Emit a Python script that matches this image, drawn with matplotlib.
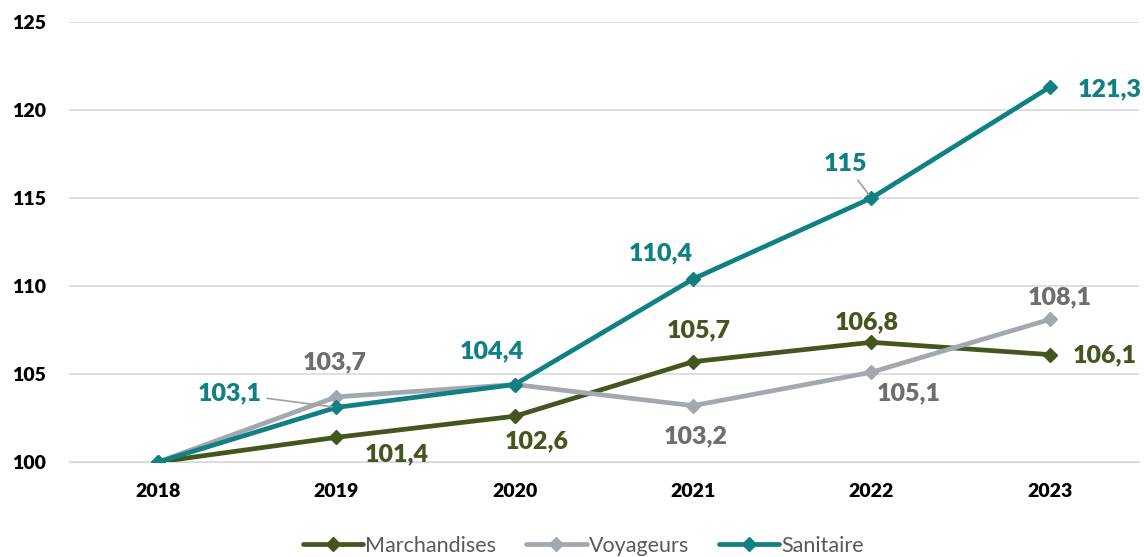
import numpy as np
import matplotlib.pyplot as plt

plt.rcParams['font.family'] = ['Lato', 'DejaVu Sans']

years = ['2018', '2019', '2020', '2021', '2022', '2023']
marchandises = [100, 101.4, 102.6, 105.7, 106.8, 106.1]
voyageurs = [100, 103.7, 104.4, 103.2, 105.1, 108.1]
sanitaire = [100, 103.1, 104.4, 110.4, 115, 121.3]

c_march = '#44561f'
c_voy = '#a3a8b0'
c_san = '#108082'
c_voy_txt = '#6e6e6e'

# label offsets in pixels (dx right, dy down); None = no label
off_march = [None, (60, 17), (22, 25), (6, -31), (-5, -20), (55, 1)]
off_voy = [None, (-2, -35), None, (3, 31), (37, 21), (10, -22)]
off_san = [None, (-107, -14), (-23, -33), (-32, -26), (-26, -34), (60, 2)]
leaders_san = {1, 4}

fig = plt.figure(figsize=(11.44, 5.57), dpi=100)
ax = fig.add_axes([0.0603, 0.1706, 0.9353, 0.7899])
x = np.arange(len(years))

for vals, col, name in [(marchandises, c_march, 'Marchandises'),
                        (voyageurs, c_voy, 'Voyageurs'),
                        (sanitaire, c_san, 'Sanitaire')]:
    ax.plot(x, vals, color=col, lw=3.4, marker='D', ms=7.5, label=name,
            solid_capstyle='round', zorder=3)


def fmt(v):
    s = ('%.1f' % v).replace('.', ',')
    return s[:-2] if s.endswith(',0') else s


def put_labels(vals, offs, col, leaders=()):
    for i, (v, o) in enumerate(zip(vals, offs)):
        if o is None:
            continue
        dx, dy = o[0] * 0.72, -o[1] * 0.72
        kw = {}
        if i in leaders:
            kw['arrowprops'] = dict(arrowstyle='-', color='#a0a0a0', lw=1.2,
                                    shrinkA=2, shrinkB=3)
        ax.annotate(fmt(v), (x[i], v), xytext=(dx, dy), textcoords='offset points',
                    ha='center', va='center', fontsize=18, fontweight='heavy',
                    color=col, zorder=5, **kw)


put_labels(marchandises, off_march, c_march)
put_labels(voyageurs, off_voy, c_voy_txt)
put_labels(sanitaire, off_san, c_san, leaders_san)

ax.set_xlim(-0.5, 5.5)
ax.set_ylim(100, 125)
ax.set_yticks([100, 105, 110, 115, 120, 125])
ax.set_xticks(x)
ax.set_xticklabels(years)
ax.yaxis.grid(True, color='#d9d9d9', lw=1.2)
ax.set_axisbelow(True)
for s in ax.spines.values():
    s.set_visible(False)
ax.spines['bottom'].set_visible(True)
ax.spines['bottom'].set_color('#d9d9d9')
ax.tick_params(length=0, labelsize=14)
ax.tick_params(axis='x', pad=15)
ax.tick_params(axis='y', pad=41)
for t in ax.get_xticklabels() + ax.get_yticklabels():
    t.set_fontweight('heavy')
for t in ax.get_yticklabels():
    t.set_ha('left')

leg = fig.legend(loc='center', bbox_to_anchor=(0.51, 0.02), ncol=3, frameon=False,
                 fontsize=15.5, handlelength=2.8, columnspacing=1.4, handletextpad=0.1)
for t in leg.get_texts():
    t.set_color('#595959')

fig.savefig('out.png', dpi=100)
